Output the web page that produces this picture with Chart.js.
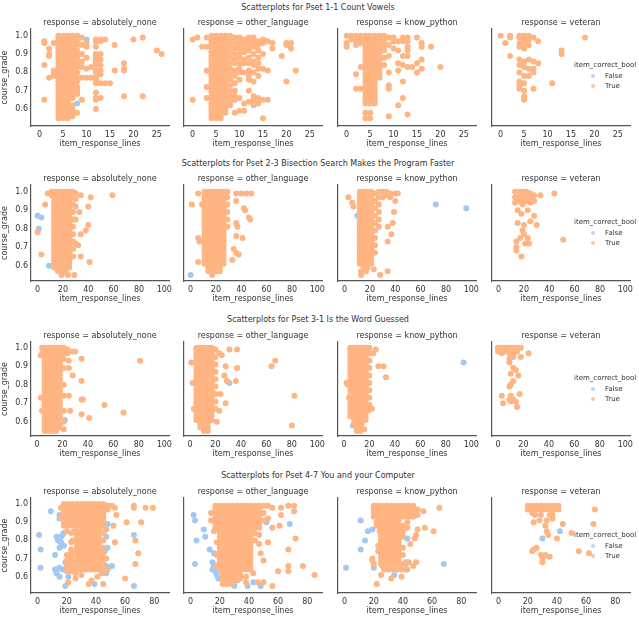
<!DOCTYPE html>
<html>
<head>
<meta charset="utf-8">
<script src="https://cdn.jsdelivr.net/npm/chart.js"></script>
<style>
body { margin: 0; background: #fff; }
#wrap { position: relative; width: 639px; height: 621px; overflow: hidden; font-family: "DejaVu Sans", sans-serif; color: #333; }
#wrap canvas { position: absolute; }
.sup { position: absolute; left: 0; width: 636px; text-align: center; font-size: 8px; line-height: 10px; white-space: nowrap; }
.leg { position: absolute; font-size: 7px; line-height: 9px; white-space: nowrap; }
.dot { position: absolute; width: 4px; height: 4px; border-radius: 50%; opacity: 0.75; }
</style>
</head>
<body>
<div id="wrap"></div>
<script>
// rows of [item_response_lines, course_grade * 100, ...]
const psetTitles = [
    "Scatterplots for Pset 1-1 Count Vowels",
    "Scatterplots for Pset 2-3 Bisection Search Makes the Program Faster",
    "Scatterplots for Pset 3-1 Is the Word Guessed",
    "Scatterplots for Pset 4-7 You and your Computer"
];
const responses = ["absolutely_none", "other_language", "know_python", "veteran"];
const hueLabels = ["False", "True"];

const xMin = [-1.85, -5.2, -4.7, -4.55];
const xMax = [27.6, 103.7, 103.7, 90.1];
const xStep = [5, 20, 20, 20];
const yMin = [0.507, 0.517, 0.523, 0.511];
const yMax = [1.037, 1.036, 1.031, 1.033];

// Pset 1-1
const p1_none_T = [
    [1, 97,96,84,65], [2, 93,90,89,77], [3, 96,81,80,78],
    [4, 55,57,59,61,63,65,67,69,71,73,75,77,79,81,83,85,87,89,91,93,95,97,99,100],
    [5, 55,57,59,61,63,65,67,69,71,73,75,77,79,81,83,85,87,89,91,93,95,97,99,100],
    [6, 55,57,59,61,63,65,67,69,71,73,75,77,79,81,83,85,87,89,91,93,95,97,99,100],
    [7, 56,58,60,62,66,68,70,72,74,76,78,80,82,84,86,88,90,92,94,96,98,100],
    [8, 100,97,95,92,90,88,85,83,80,77,75,72,70,68,58],
    [9, 99,95,90,86,83,77,65], [10, 96,94,88,82,77], [11, 83,77],
    [12, 98,97,94,90,88,86,84,81,80,77,76,74,69,66,65,60],
    [13, 98,97,90,87,84,81,79,74,66], [14, 98,74], [15, 74], [16, 95,81],
    [18, 85,82,81,67], [20, 98], [22, 99,67], [25, 92], [26, 90]
];
const p1_none_F = [[8, 63], [10, 98]];
const p1_other_T = [
    [0, 98,65], [1, 99], [2, 94], [3, 99,94,81,72,66],
    [4, 55,57,59,61,63,65,67,69,71,73,75,77,79,81,83,85,87,89,91,93,95,97,99,100],
    [5, 55,57,59,61,63,65,67,69,71,73,75,77,79,81,83,85,87,89,91,93,95,97,99,100],
    [6, 55,57,59,61,63,65,67,69,71,73,75,77,79,81,83,85,87,89,91,93,95,97,99,100],
    [7, 58,60,62,64,66,68,70,72,74,76,78,80,82,84,86,88,90,92,94,96,98,100],
    [8, 100,97,94,91,88,85,82,79,76,73,70,67,64,62],
    [9, 99,96,93,90,87,85,81,78,74,70,67,65,58],
    [10, 99,97,95,93,90,88,85,82,80,76,66,59],
    [11, 98,96,93,91,87,85,80,63,59],
    [12, 99,97,95,92,88,85,81,78,76,70,64],
    [13, 99,97,94,90,86,84,80,75,67,65,62],
    [14, 97,95,92,88,85,82,78,66,63],
    [15, 98,96,90,82,65,55], [16, 97,81,65], [17, 96,93], [19, 89],
    [20, 96,95,75], [21, 96,93], [22, 81]
];
const p1_other_F = [];
const p1_python_T = [
    [0, 100,96,94], [1, 100,98], [2, 100,97,95,79,71], [3, 100,98,96,83,71],
    [4, 55,58,63,65,67,69,71,73,75,77,79,81,83,85,87,89,91,93,95,97,99,100],
    [5, 55,58,63,65,67,69,71,73,75,77,79,81,83,85,87,89,91,93,95,97,99,100],
    [6, 63,65,67,69,71,73,75,77,79,81,83,85,87,89,91,93,95,97,99,100],
    [7, 77,79,81,83,85,87,89,91,93,95,97,99,100],
    [8, 100,97,95,92,88,84], [9, 99,95,89,80,73,71,56], [10, 99,97,93],
    [11, 97,92,85,81,62], [12, 99,97,89,84,75,66], [13, 99,97,94,92,89,83,57],
    [14, 83], [15, 99,85,80], [16, 96,94,87,82], [18, 94], [20, 83]
];
const p1_python_F = [];
const p1_vet_T = [
    [0, 100], [1, 96], [2, 100,99,89],
    [4, 100,99,96,94,87,84,80,75,73,71],
    [5, 100,98,96,93,86,83,78,74,70,67,65],
    [6, 100,98,95,87,82,78], [7, 99,86,82,80,71], [8, 97,85],
    [11, 74], [13, 92,90], [18, 99]
];
const p1_vet_F = [];

// Pset 2-3
const p2_none_T = [
    [0, 78], [3, 66], [6, 93], [8, 99], [11, 100,98],
    [13, 59,61,63,65,67,69,71,73,75,77,79,81,83,85,87,89,91,93,95,97,99,100],
    [16, 57,59,61,63,65,67,69,71,73,75,77,79,81,83,85,87,89,91,93,95,97,99,100],
    [19, 55,57,59,61,63,65,67,69,71,73,75,77,79,81,83,85,87,89,91,93,95,97,99,100],
    [22, 57,59,61,63,65,67,69,71,73,75,77,79,81,83,85,87,89,91,93,95,97,99,100],
    [25, 59,61,63,65,67,69,71,73,75,77,79,81,83,85,87,89,91,93,95,97,99,100],
    [28, 65,69,73,77,81,85,89,93,97,100],
    [30, 99,96,92,85,72], [24, 55], [29, 55],
    [32, 71], [33, 89], [34, 98,77,65], [38, 79], [40, 92,82], [41, 62], [42, 97], [59, 98]
];
const p2_none_F = [[0, 87], [3, 86], [1, 80], [9, 60]];
const p2_other_T = [
    [1, 93], [6, 99,75,62], [7, 73], [9, 93],
    [11, 61,63,65,67,69,71,73,75,77,79,81,83,85,87,89,91,93,95,97,99,100],
    [14, 57,59,61,63,65,67,69,71,73,75,77,79,81,83,85,87,89,91,93,95,97,99,100],
    [17, 55,57,59,61,63,65,67,69,71,73,75,77,79,81,83,85,87,89,91,93,95,97,99,100],
    [20, 57,59,61,63,65,67,69,71,73,75,77,79,81,83,85,87,89,91,93,95,97,99,100],
    [23, 57,59,61,63,65,67,69,71,73,75,77,79,81,83,85,87,89,91,93,95,97,99,100],
    [26, 61,63,65,67,69,71,73,75,77,79,81,83,85,87,89,91,93,95,97,99,100],
    [29, 81,85,89,93,97,100],
    [33, 63], [34, 69], [36, 99,95,83,76,67], [37, 81], [38, 66], [40, 99], [41, 75],
    [42, 91], [43, 90], [44, 99], [46, 86], [47, 85], [48, 99]
];
const p2_other_F = [[0, 55]];
const p2_python_T = [
    [3, 97], [6, 94], [7, 92],
    [12, 61,63,65,67,69,71,73,75,77,79,81,83,85,87,89,91,93,95,97,99,100],
    [15, 59,61,63,65,67,69,71,73,75,77,79,81,83,85,87,89,91,93,95,97,99,100],
    [18, 59,61,63,65,67,69,71,73,75,77,79,81,83,85,87,89,91,93,95,97,99,100],
    [21, 61,63,65,67,69,71,73,75,77,79,81,83,85,87,89,91,93,95,97,99,100],
    [24, 67,71,75,79,83,87,91,95,99],
    [27, 81,85,89,93,97,100],
    [30, 100,97], [33, 100,98], [36, 99,97], [40, 99,95], [42, 99],
    [39, 89], [38, 83], [34, 81,73], [37, 77],
    [13, 57,55], [17, 57], [23, 58], [28, 55], [34, 57]
];
const p2_python_F = [[10, 87], [72, 93], [96, 91]];
const p2_vet_T = [
    [13, 100,97,94], [16, 100,97,95], [19, 100,98,96,93], [22, 100,97,95],
    [25, 99,97,94], [28, 98,95], [33, 98], [44, 99],
    [15, 90,83], [18, 88], [23, 90], [28, 87], [20, 82,77], [25, 84], [30, 82], [19, 79],
    [51, 74], [17, 75], [23, 75], [14, 73,70,68], [21, 72], [24, 72], [18, 65]
];
const p2_vet_F = [];

// Pset 3-1
const p3_none_T = [
    [3, 96,73], [4, 100,97,66], [5, 96], [7, 60],
    [6, 55,57,59,61,63,65,67,69,71,73,75,77,79,81,83,85,87,89,91,93,95,97,99,100],
    [9, 55,57,59,61,63,65,67,69,71,73,75,77,79,81,83,85,87,89,91,93,95,97,99,100],
    [12, 55,57,59,61,63,65,67,69,71,73,75,77,79,81,83,85,87,89,91,93,95,97,99,100],
    [15, 55,57,59,61,63,65,67,69,71,73,75,77,79,81,83,85,87,89,91,93,95,97,99,100],
    [18, 57,59,61,63,65,67,69,71,73,75,77,79,81,83,85,87,89,91,93,95,97,99,100],
    [21, 100,97,94,89,80,74,66,60,56],
    [24, 99,97], [28, 98,85], [30, 98], [25, 93,89,74], [26, 66],
    [35, 94,82,72,64], [36, 72], [41, 62], [53, 69], [68, 65], [81, 93]
];
const p3_none_F = [[22, 61]];
const p3_other_T = [
    [1, 92], [2, 81], [3, 67],
    [5, 61,63,65,67,69,71,73,75,77,79,81,83,85,87,89,91,93,95,97,99,100],
    [8, 57,59,61,63,65,67,69,71,73,75,77,79,81,83,85,87,89,91,93,95,97,99,100],
    [11, 55,57,59,61,63,65,67,69,71,73,75,77,79,81,83,85,87,89,91,93,95,97,99,100],
    [14, 55,57,59,61,63,65,67,69,71,73,75,77,79,81,83,85,87,89,91,93,95,97,99,100],
    [17, 61,63,65,67,69,71,73,75,77,79,81,83,85,87,89,91,93,95,97,99,100],
    [20, 67,71,75,79,83,87,91,95,99],
    [23, 97,66], [21, 60], [24, 75], [25, 96], [27, 85], [28, 90,70], [29, 82],
    [31, 99], [36, 82], [37, 99,89], [64, 90], [67, 93], [82, 74], [80, 58]
];
const p3_other_F = [[31, 81]];
const p3_python_T = [
    [2, 81], [3, 80], [4, 73],
    [5, 63,65,67,69,71,73,75,77,79,81,83,85,87,89,91,93,95,97,99,100],
    [8, 59,61,63,65,67,69,71,73,75,77,79,81,83,85,87,89,91,93,95,97,99,100],
    [11, 59,61,63,65,67,69,71,73,75,77,79,81,83,85,87,89,91,93,95,97,99,100],
    [14, 59,61,63,65,67,69,71,73,75,77,79,81,83,85,87,89,91,93,95,97,99,100],
    [17, 61,63,65,67,69,71,73,75,77,79,81,83,85,87,89,91,93,95,97,99,100],
    [20, 69,73,77,81,85,89,93,97,100],
    [23, 97], [25, 99], [27, 90], [31, 90], [33, 84], [19, 66], [22, 67],
    [10, 57,55], [13, 57,55], [16, 56]
];
const p3_python_F = [[94, 92], [7, 58]];
const p3_vet_T = [
    [0, 100,98], [3, 100,97], [6, 100,98], [9, 100,97,94,92,79,72],
    [12, 100,97,95,89,82,72], [15, 100,98,68], [18, 100,95], [24, 97],
    [14, 88,71], [10, 86,80,74,71], [16, 85], [17, 75], [3, 74], [4, 70]
];
const p3_vet_F = [];

// Pset 4-7
const p4_none_T = [
    [18, 88,90,92,94,96,98,100], [21, 88,90,92,94,96,98,100], [24, 88,90,92,94,96,98,100],
    [27, 88,90,92,94,96,98,100], [30, 88,90,92,94,96,98,100], [33, 88,90,92,94,96,98,100],
    [36, 88,90,92,94,96,98,100], [39, 88,90,92,94,96,98,100], [42, 88,90,92,94,96,98,100],
    [45, 88,90,92,94,96,98,100], [48, 97,99], [51, 99],
    [27, 64,66,68,70,72,74,76,78,80,82,84,86], [30, 64,66,68,70,72,74,76,78,80,82,84,86],
    [33, 64,66,68,70,72,74,76,78,80,82,84,86], [36, 64,66,68,70,72,74,76,78,80,82,84,86],
    [39, 64,66,68,70,72,74,76,78,80,82,84,86], [42, 64,66,68,70,72,74,76,78,80,82,84,86],
    [20, 63,66,69,72,85], [23, 63,65,67,69,71,73,75,79,84], [24, 80,68], [16, 93,98],
    [45, 64,67,70,73,76,80,84], [47, 86,70], [48, 64], [44, 62],
    [53, 98], [66, 99,98], [74, 98], [79, 98], [61, 90], [71, 90], [54, 94], [52, 88],
    [53, 79], [67, 80,67], [69, 73], [60, 59],
    [21, 57], [26, 59,62], [30, 61], [35, 56], [37, 58], [41, 60], [45, 56]
];
const p4_none_F = [
    [1, 83], [2, 75,65], [9, 96], [15, 94,92,76,65,60], [16, 82,79], [17, 83,64],
    [18, 84,77], [14, 80], [13, 82,62], [12, 72,64], [19, 68,55], [21, 69,60],
    [25, 85], [26, 84], [28, 77], [29, 72], [30, 68], [35, 71], [39, 56],
    [43, 75], [46, 74], [48, 76,89], [47, 82,66,62], [51, 66], [66, 83,55]
];
const p4_other_T = [
    [17, 87,89,91,93,95,97,99], [20, 87,89,91,93,95,97,99], [23, 87,89,91,93,95,97,99],
    [26, 87,89,91,93,95,97,99], [29, 87,89,91,93,95,97,99], [32, 87,89,91,93,95,97,99],
    [35, 87,89,91,93,95,97,99], [38, 87,89,91,93,95,97,99], [41, 87,89,91,93,95,97,99],
    [44, 87,89,91,93,95,97,99], [47, 87,89,91,93,95,97,99], [50, 91,95,99],
    [20, 64,66,68,70,72,74,76,78,80,82,84,86], [23, 64,66,68,70,72,74,76,78,80,82,84,86],
    [26, 64,66,68,70,72,74,76,78,80,82,84,86], [29, 64,66,68,70,72,74,76,78,80,82,84,86],
    [32, 64,66,68,70,72,74,76,78,80,82,84,86], [35, 64,66,68,70,72,74,76,78,80,82,84,86],
    [38, 64,66,68,70,72,74,76,78,80,82,84,86], [41, 64,66,68,70,72,74,76,78,80,82,84,86],
    [22, 56,58,60,62], [25, 56,58,60,62], [28, 56,58,60,62], [31, 58,60,62], [34, 59,61],
    [14, 95,91], [44, 80,84], [47, 78,83], [18, 66,72], [38, 60,57], [43, 62],
    [53, 99,92,79], [56, 98,87,55], [62, 98,94], [67, 99,75,66,63], [71, 99,96],
    [61, 88], [72, 81], [77, 66], [85, 61], [60, 63], [50, 57,69], [46, 57], [48, 73],
    [18, 79], [16, 85]
];
const p4_other_F = [
    [2, 94], [3, 91,67], [4, 80], [9, 86], [10, 82], [13, 75], [16, 73,66],
    [15, 68,64], [17, 63], [18, 97,61], [19, 93,59], [20, 69], [21, 72], [23, 78],
    [25, 81], [27, 88], [30, 55], [32, 58,63], [34, 60], [39, 55], [43, 57],
    [48, 55], [52, 90], [68, 89]
];
const p4_python_T = [
    [20, 93,95,97,99], [23, 93,95,97,99], [26, 93,95,97,99], [29, 93,95,97,99], [32, 93,95,97,99],
    [35, 93,95,97,99], [38, 93,95,97,99], [41, 93,95,97,99], [44, 93,95,97,99], [47, 93,95,97,99],
    [50, 94,97],
    [25, 67,69,71,73,75,77,79,81,83,85,87,89,91], [28, 67,69,71,73,75,77,79,81,83,85,87,89,91],
    [31, 67,69,71,73,75,77,79,81,83,85,87,89,91], [34, 67,69,71,73,75,77,79,81,83,85,87,89,91],
    [37, 67,69,71,73,75,77,79,81,83,85,87,89,91],
    [27, 64], [30, 64], [33, 64], [36, 64], [39, 64,67], [42, 64,67], [40, 72,76,82,85,88],
    [22, 90,88], [43, 90,87], [23, 74,77],
    [65, 98], [54, 96], [55, 87], [61, 85], [50, 86], [49, 83,68], [48, 81], [45, 78],
    [47, 66], [44, 68], [39, 60], [32, 59], [25, 61,80], [22, 56], [19, 70,69],
    [20, 67], [24, 85]
];
const p4_python_F = [
    [1, 65], [11, 91,75], [16, 85], [19, 86], [14, 80], [20, 65], [26, 66],
    [28, 70,82,88], [29, 90], [30, 85], [34, 61], [43, 81,64], [42, 68], [68, 67]
];
const p4_vet_T = [
    [20, 97,99], [23, 97,99], [26, 97,99], [29, 97,99], [32, 97,99],
    [35, 97,99], [38, 97,99], [41, 97,99],
    [66, 97], [65, 89], [44, 89], [50, 84], [55, 74], [62, 73],
    [23, 95,74], [24, 90,75], [28, 91], [33, 91,85], [37, 92,94], [32, 88], [34, 83],
    [40, 81], [25, 94], [29, 94], [35, 94], [26, 76], [29, 72], [32, 72], [30, 70,68], [35, 71]
];
const p4_vet_F = [[42, 85], [30, 81], [33, 98]];

const panels = [
    [[p1_none_T, p1_none_F], [p1_other_T, p1_other_F], [p1_python_T, p1_python_F], [p1_vet_T, p1_vet_F]],
    [[p2_none_T, p2_none_F], [p2_other_T, p2_other_F], [p2_python_T, p2_python_F], [p2_vet_T, p2_vet_F]],
    [[p3_none_T, p3_none_F], [p3_other_T, p3_other_F], [p3_python_T, p3_python_F], [p3_vet_T, p3_vet_F]],
    [[p4_none_T, p4_none_F], [p4_other_T, p4_other_F], [p4_python_T, p4_python_F], [p4_vet_T, p4_vet_F]]
];

const BLUE = "#a1c9f4";
const ORANGE = "#ffb482";
const TEXT = "#333";
const AXIS = "#555";
const FONT = "'DejaVu Sans', sans-serif";

const rowTop = [29, 185, 342, 498];
const rowBottom = [126, 281, 436, 593];
const colLeft = [31, 184, 338, 492];
const supY = [8, 164, 320, 476];
const legY = [65, 222, 378, 535];
const plotW = 138, axisW = 31, titleH = 11, xAxisH = 23, padB = 4, padR = 10;

const toPoints = (rows) => {
    const pts = [];
    for (const r of rows) {
        for (let i = 1; i < r.length; i++) pts.push({x: r[0], y: r[i] / 100});
    }
    return pts;
};

const wrap = document.getElementById("wrap");

for (let r = 0; r < 4; r++) {
    const sup = document.createElement("div");
    sup.className = "sup";
    sup.style.top = (supY[r] - 5) + "px";
    sup.textContent = psetTitles[r];
    wrap.appendChild(sup);

    for (let c = 0; c < 4; c++) {
        const cv = document.createElement("canvas");
        cv.width = axisW + plotW + padR;
        cv.height = titleH + (rowBottom[r] - rowTop[r]) + xAxisH + padB;
        cv.style.left = (colLeft[c] - axisW) + "px";
        cv.style.top = (rowTop[r] - titleH) + "px";
        wrap.appendChild(cv);

        const [T, F] = panels[r][c];
        new Chart(cv.getContext("2d"), {
            type: "scatter",
            data: {
                datasets: [
                    {label: "True", data: toPoints(T), backgroundColor: ORANGE, pointRadius: 3, borderWidth: 0},
                    {label: "False", data: toPoints(F), backgroundColor: BLUE, pointRadius: 3, borderWidth: 0}
                ]
            },
            options: {
                responsive: false,
                animation: false,
                events: [],
                layout: {padding: {left: 0, top: 0, right: padR, bottom: padB}},
                plugins: {
                    legend: {display: false},
                    tooltip: {enabled: false},
                    title: {
                        display: true,
                        text: "response = " + responses[c],
                        color: TEXT,
                        font: {family: FONT, size: 8, weight: "normal"},
                        padding: {top: 0, bottom: 1.4},
                        fullSize: false
                    }
                },
                scales: {
                    x: {
                        type: "linear",
                        min: xMin[r],
                        max: xMax[r],
                        grid: {display: false, drawTicks: false},
                        border: {display: true, color: AXIS, width: 1.2},
                        ticks: {stepSize: xStep[r], includeBounds: false, padding: 4.5, maxRotation: 0,
                                color: TEXT, font: {family: FONT, size: 8}},
                        title: {display: true, text: "item_response_lines", color: TEXT,
                                font: {family: FONT, size: 8}, padding: 0},
                        afterFit: (s) => { s.height = xAxisH; }
                    },
                    y: {
                        type: "linear",
                        min: yMin[r],
                        max: yMax[r],
                        grid: {display: false, drawTicks: false},
                        border: {display: true, color: AXIS, width: 1.2},
                        ticks: {display: c === 0, stepSize: 0.1, includeBounds: false, padding: 3,
                                color: TEXT, font: {family: FONT, size: 8},
                                callback: (v) => v.toFixed(1)},
                        title: {display: c === 0, text: "course_grade", color: TEXT,
                                font: {family: FONT, size: 8}, padding: 0},
                        afterFit: (s) => { s.width = axisW; }
                    }
                }
            }
        });
    }

    // hue legend at the right of the last facet
    const lt = document.createElement("div");
    lt.className = "leg";
    lt.style.left = "574px";
    lt.style.top = (legY[r] - 4.5) + "px";
    lt.textContent = "item_correct_bool";
    wrap.appendChild(lt);
    hueLabels.forEach((lab, i) => {
        const y = legY[r] + 11 + i * 10;
        const d = document.createElement("div");
        d.className = "dot";
        d.style.left = "591px";
        d.style.top = (y - 2) + "px";
        d.style.background = lab === "False" ? BLUE : ORANGE;
        wrap.appendChild(d);
        const t = document.createElement("div");
        t.className = "leg";
        t.style.left = "605px";
        t.style.top = (y - 4.5) + "px";
        t.textContent = lab;
        wrap.appendChild(t);
    });
}
</script>
</body>
</html>
